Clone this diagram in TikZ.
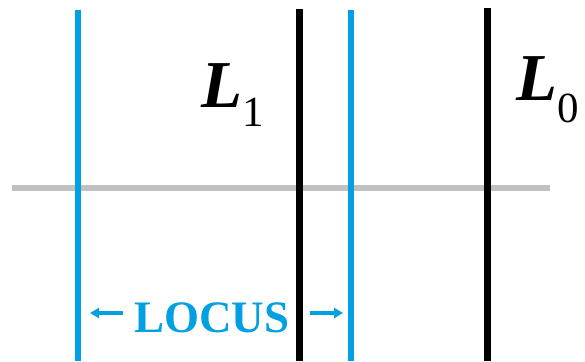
\documentclass[tikz,border=0pt]{standalone}
\usepackage{fontspec}
\setmainfont{Liberation Serif}
\usetikzlibrary{arrows.meta, positioning}
\definecolor{locblue}{RGB}{0,160,227}
\definecolor{axgray}{RGB}{192,192,192}
\tikzset{
  locline/.style={line width=6.5pt, color=locblue},
  lensline/.style={line width=7pt, color=black},
  axis/.style={line width=6pt, color=axgray},
  lbl/.style={inner sep=0pt, anchor=base west},
  locarrow/.style={-{Triangle[length=9pt, width=10pt]}, line width=3.5pt, color=locblue}
}
\begin{document}
\begin{tikzpicture}[x=1pt, y=-1pt]
  \useasboundingbox (0,0) rectangle (585,361);
  % end points
  \coordinate (axL) at (12,188);
  \coordinate (axR) at (550,188);
  \coordinate (b1t) at (78,10);
  \coordinate (b1b) at (78,361);
  \coordinate (k1t) at (299,9);
  \coordinate (k1b) at (299,361);
  \coordinate (b2t) at (351,10);
  \coordinate (b2b) at (351,361);
  \coordinate (k0t) at (487,8);
  \coordinate (k0b) at (487,361);

  \draw[axis] (axL) -- (axR);
  \draw[locline] (b1t) -- (b1b);
  \draw[locline] (b2t) -- (b2b);
  \draw[lensline] (k1t) -- (k1b);
  \draw[lensline] (k0t) -- (k0b);

  % labels
  \node[lbl] (L1) at (201,107)
    {\fontsize{67}{67}\selectfont\textbf{\textit{L}}\fontsize{43}{43}\selectfont\raisebox{-19pt}{1}};
  \node[lbl] (L0) at (516,100)
    {\fontsize{67}{67}\selectfont\textbf{\textit{L}}\fontsize{43}{43}\selectfont\raisebox{-22pt}{0}};

  \node[inner sep=0pt, anchor=base, color=locblue, font=\fontsize{45}{45}\selectfont\bfseries] (locus) at (212,332) {LOCUS};
  \coordinate (la) at (90,313);
  \coordinate (ra) at (343,313);
  \draw[locarrow] ([xshift=-11pt]locus.west |- la) -- (la);
  \draw[locarrow] ([xshift=20pt]locus.east |- ra) -- (ra);
\end{tikzpicture}
\end{document}
